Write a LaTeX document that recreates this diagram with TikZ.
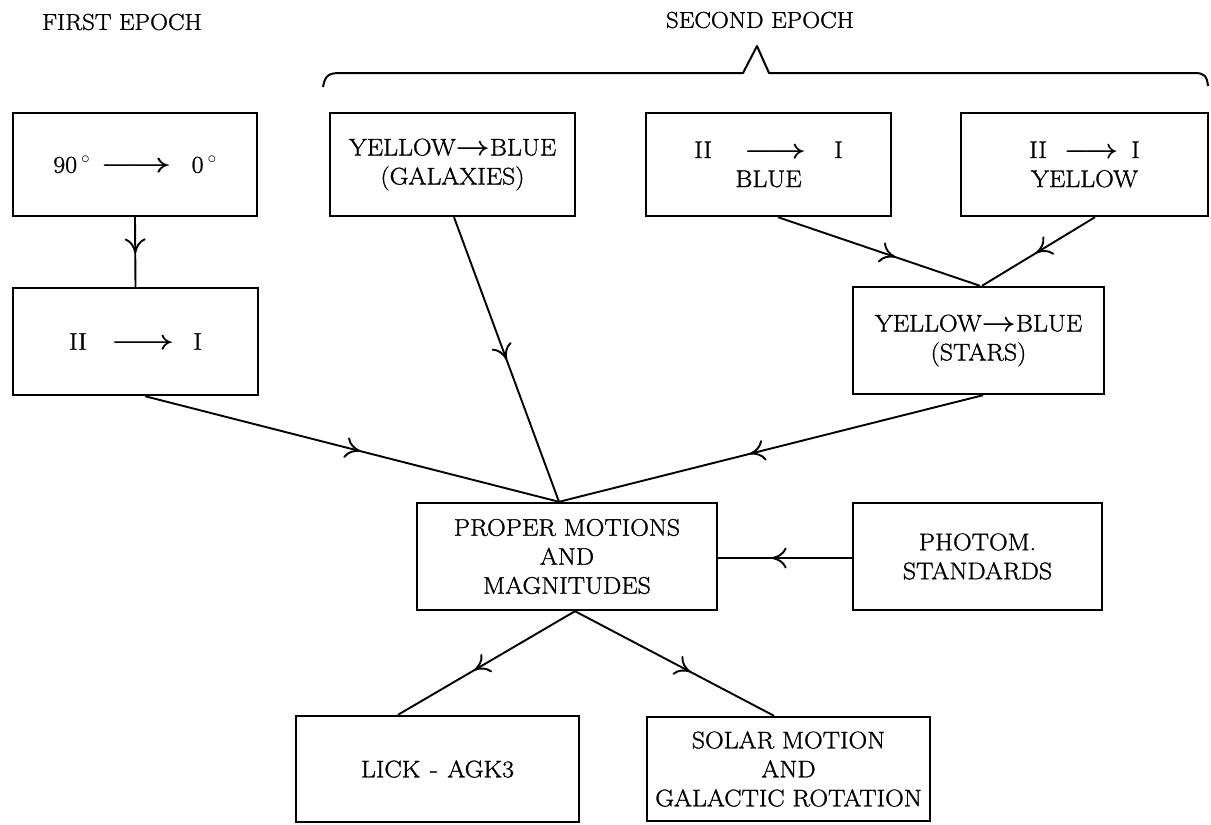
\documentclass[tikz,border=0pt]{standalone}
\usepackage{graphicx}
\usepackage{fontspec}
\newfontfamily\boxfont{Latin Modern Roman}[FakeBold=1.2,FakeStretch=1.08]
\usetikzlibrary{arrows.meta,decorations.markings}
\newcommand{\txtarr}[1]{\scalebox{#1}[1.1]{\boldmath$\longrightarrow$}}
\newcommand{\shortarr}{\scalebox{1.2}[1.1]{\boldmath$\rightarrow$}}
\tikzset{
  box/.style={draw, line width=2.4pt, align=center, inner sep=0pt,
    font=\boxfont\fontsize{24}{29}\selectfont},
  hdr/.style={inner sep=0pt, font=\boxfont\fontsize{23}{29}\selectfont},
  conn/.style={line width=1.9pt, postaction={decorate},
    decoration={markings, mark=at position #1 with
      {\arrow{Computer Modern Rightarrow[length=15pt,width=21pt,line width=1.9pt]}}}},
  conn/.default=0.55
}
\begin{document}
\begin{tikzpicture}[x=1pt,y=-1pt]
\useasboundingbox[fill=white] (0,0) rectangle (1211,825);
% headers
\node[hdr] (first) at (122,22) {FIRST EPOCH};
\node[hdr] (second) at (760,20) {SECOND EPOCH};
% brace
\draw[line width=2pt, line join=round] (323,87) .. controls (325,76) and (328,73) .. (340,73)
  -- (743,73) -- (757,46) -- (769,73) -- (1195,73) .. controls (1204,73) and (1207,76) .. (1208,86);
% top row
\node[box, minimum width=244pt, minimum height=103pt] (A) at (135,164.5)
  {90\,$^{\circ}$\hspace{10pt}\txtarr{1.55}\hspace{20pt}0\,$^{\circ}$};
\node[box, minimum width=245pt, minimum height=103pt] (B) at (452.5,164.5)
  {YELLOW\shortarr BLUE\\(GALAXIES)};
\node[box, minimum width=245pt, minimum height=103pt] (C) at (768.5,164.5)
  {II\hspace{32pt}\txtarr{1.35}\hspace{28pt}I\\BLUE};
\node[box, minimum width=247pt, minimum height=103pt] (D) at (1084.5,164.5)
  {II\hspace{17pt}\txtarr{1.18}\hspace{13pt}I\\YELLOW};
% second row
\node[box, minimum width=245pt, minimum height=107pt] (E) at (135.5,341.5)
  {II\hspace{24pt}\txtarr{1.38}\hspace{19pt}I};
\node[box, minimum width=251pt, minimum height=107pt] (F) at (978.5,340.5)
  {YELLOW\shortarr BLUE\\(STARS)};
% third row
\node[box, minimum width=300pt, minimum height=107pt] (PM) at (567,556.5)
  {PROPER MOTIONS\\AND\\MAGNITUDES};
\node[box, minimum width=249pt, minimum height=107pt] (PH) at (977.5,556.5)
  {PHOTOM.\\STANDARDS};
% bottom row
\node[box, minimum width=283pt, minimum height=106pt] (LICK) at (437.5,769)
  {LICK\hspace{0.4em}-\hspace{0.4em}AGK3};
\node[box, minimum width=283pt, minimum height=104pt] (SOL) at (788.5,769)
  {SOLAR MOTION\\AND\\GALACTIC ROTATION};
% connectors
\draw[conn=0.52] (A.south) -- (E.north);
\draw[conn=0.5] ([xshift=1.5pt]B.south) -- ([xshift=-8pt]PM.north);
\draw[conn=0.52] ([xshift=9.5pt]E.south) -- ([xshift=-8pt]PM.north);
\draw[conn=0.55] ([xshift=4.5pt]F.south) -- ([xshift=-8pt]PM.north);
\draw[conn=0.58] ([xshift=9.5pt]C.south) -- ([xshift=1.5pt]F.north);
\draw[conn=0.52] ([xshift=10.5pt]D.south) -- ([xshift=3.5pt]F.north);
\draw[conn=0.6] ([yshift=-1.5pt]PH.west) -- ([yshift=-1.5pt]PM.east);
\draw[conn=0.57] ([xshift=8pt]PM.south) -- ([xshift=-39.5pt]LICK.north);
\draw[conn=0.58] ([xshift=8pt]PM.south) -- ([xshift=-14.5pt]SOL.north);
\end{tikzpicture}
\end{document}
